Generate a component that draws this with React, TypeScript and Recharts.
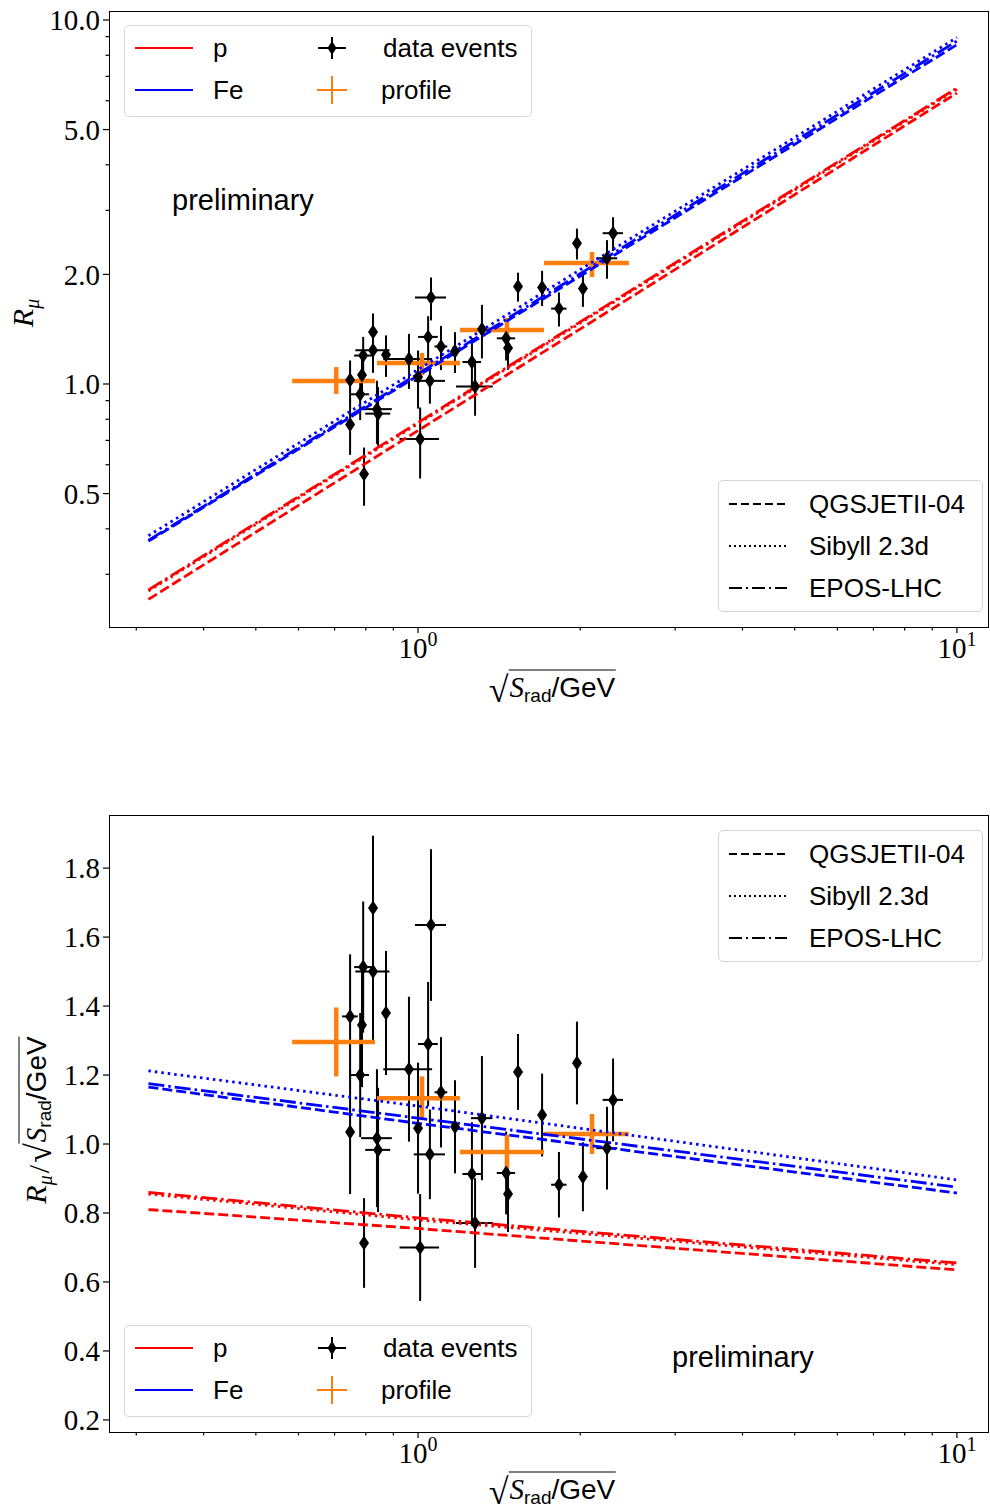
import React from 'react';
import { ScatterChart, Scatter, XAxis, YAxis, ErrorBar } from 'recharts';

// --- data events (one entry per air shower) ---
const eventX = [0.825, 1.057, 0.791, 0.825, 0.872, 0.748, 0.787, 1.044, 0.781, 0.962, 1.103, 1.533, 1.972, 2.301, 1.314, 1.699, 1.171, 1.0, 0.748, 0.839, 0.843, 1.052, 2.242, 1.259, 1.457, 1.469, 2.023, 1.826, 1.276, 0.794, 1.009];
const eventXErr = [0, 0.07, 0.03, 0.06, 0, 0.025, 0, 0.044, 0.03, 0.1, 0.03, 0, 0, 0.1, 0.06, 0, 0, 0, 0, 0.055, 0.045, 0.07, 0.1, 0.05, 0.057, 0.025, 0, 0.06, 0.1, 0, 0.085];
const eventR = [1.389, 1.728, 1.197, 1.238, 1.203, 1.025, 1.059, 1.347, 0.937, 1.171, 1.268, 1.853, 2.435, 2.596, 1.413, 1.842, 1.23, 1.046, 0.774, 0.853, 0.829, 1.02, 2.215, 1.149, 1.335, 1.256, 1.831, 1.611, 0.984, 0.566, 0.706];
const eventRErr = [0.173, 0.233, 0.15, 0.165, 0.157, 0.135, 0.142, 0.188, 0.141, 0.202, 0.176, 0.169, 0.237, 0.276, 0.237, 0.204, 0.158, 0.19, 0.135, 0.168, 0.152, 0.137, 0.269, 0.189, 0.175, 0.162, 0.202, 0.173, 0.166, 0.103, 0.156];
const eventRatio = [1.684, 1.635, 1.513, 1.5, 1.38, 1.37, 1.345, 1.29, 1.2, 1.217, 1.15, 1.209, 1.235, 1.128, 1.075, 1.084, 1.05, 1.046, 1.035, 1.017, 0.983, 0.97, 0.988, 0.913, 0.916, 0.855, 0.905, 0.882, 0.771, 0.713, 0.7];
const eventRatioErr = [0.21, 0.22, 0.19, 0.2, 0.18, 0.18, 0.18, 0.18, 0.18, 0.21, 0.16, 0.11, 0.12, 0.12, 0.18, 0.12, 0.135, 0.19, 0.18, 0.2, 0.18, 0.13, 0.12, 0.15, 0.12, 0.11, 0.1, 0.095, 0.13, 0.13, 0.155];

// --- profile (binned) ---
const profileX = [0.705, 1.017, 1.462, 2.103];
const profileXLow = [0.584, 0.839, 1.196, 1.713];
const profileXHigh = [0.832, 1.196, 1.713, 2.462];
const profileR = [1.019, 1.142, 1.407, 2.149];
const profileRLow = [0.939, 1.058, 1.288, 1.968];
const profileRHigh = [1.113, 1.217, 1.518, 2.305];
const profileRatio = [1.296, 1.133, 0.977, 1.029];
const profileRatioErr = [0.1, 0.063, 0.05, 0.058];

// --- model predictions ---
const modelXTop = [0.316, 10];
const pQgsTop = [0.256, 6.3];
const pSibTop = [0.27, 6.45];
const pEposTop = [0.272, 6.5];
const feQgsTop = [0.37, 8.55];
const feSibTop = [0.383, 8.95];
const feEposTop = [0.372, 8.75];

const modelXBottom = [0.316, 1, 10];
const pQgsBottom = [0.81, 0.755, 0.635];
const pSibBottom = [0.855, 0.78, 0.65];
const pEposBottom = [0.86, 0.786, 0.655];
const feQgsBottom = [1.165, 1.06, 0.858];
const feSibBottom = [1.212, 1.11, 0.896];
const feEposBottom = [1.175, 1.075, 0.875];

// --- ticks ---
const xTicks = [0.3, 0.4, 0.5, 0.6, 0.7, 0.8, 0.9, 1, 2, 3, 4, 5, 6, 7, 8, 9, 10];
const xTickLabels = [1, 10];
const yTicksTop = [0.3, 0.4, 0.5, 0.6, 0.7, 0.8, 0.9, 1, 2, 3, 4, 5, 6, 7, 8, 9, 10];
const yTickLabelsTop = [0.5, 1, 2, 5, 10];
const yTicksBottom = [0.2, 0.4, 0.6, 0.8, 1.0, 1.2, 1.4, 1.6, 1.8];

const SERIF = '"Liberation Serif", "DejaVu Serif", serif';
const SANS = '"Liberation Sans", Arial, sans-serif';
const RED = '#ff0000';
const BLUE = '#0000ff';
const ORANGE = '#ff7f0e';
const DASHED = '10 4';
const DOTTED = '2.5 4';
const DASHDOT = '16 4 2.5 4';

const eventsTop = eventX.map((x, i) => ({ x, y: eventR[i], ex: eventXErr[i], ey: eventRErr[i] }));
const eventsBottom = eventX.map((x, i) => ({ x, y: eventRatio[i], ex: eventXErr[i], ey: eventRatioErr[i] }));
const profileTop = profileX.map((x, i) => ({
  x,
  y: profileR[i],
  ex: [x - profileXLow[i], profileXHigh[i] - x],
  ey: [profileR[i] - profileRLow[i], profileRHigh[i] - profileR[i]],
}));
const profileBottom = profileX.map((x, i) => ({
  x,
  y: profileRatio[i],
  ex: [x - profileXLow[i], profileXHigh[i] - x],
  ey: profileRatioErr[i],
}));

const toLine = (xs: number[], ys: number[]) => xs.map((x, i) => ({ x, y: ys[i] }));

const topModels = [
  { name: 'p-qgs', data: toLine(modelXTop, pQgsTop), color: RED, dash: DASHED },
  { name: 'p-sib', data: toLine(modelXTop, pSibTop), color: RED, dash: DOTTED },
  { name: 'p-epos', data: toLine(modelXTop, pEposTop), color: RED, dash: DASHDOT },
  { name: 'fe-qgs', data: toLine(modelXTop, feQgsTop), color: BLUE, dash: DASHED },
  { name: 'fe-sib', data: toLine(modelXTop, feSibTop), color: BLUE, dash: DOTTED },
  { name: 'fe-epos', data: toLine(modelXTop, feEposTop), color: BLUE, dash: DASHDOT },
];
const bottomModels = [
  { name: 'p-qgs', data: toLine(modelXBottom, pQgsBottom), color: RED, dash: DASHED },
  { name: 'p-sib', data: toLine(modelXBottom, pSibBottom), color: RED, dash: DOTTED },
  { name: 'p-epos', data: toLine(modelXBottom, pEposBottom), color: RED, dash: DASHDOT },
  { name: 'fe-qgs', data: toLine(modelXBottom, feQgsBottom), color: BLUE, dash: DASHED },
  { name: 'fe-sib', data: toLine(modelXBottom, feSibBottom), color: BLUE, dash: DOTTED },
  { name: 'fe-epos', data: toLine(modelXBottom, feEposBottom), color: BLUE, dash: DASHDOT },
];

const Diamond = (props: any) => {
  const { cx, cy } = props;
  if (cx == null || cy == null) return <g />;
  return <polygon points={`${cx},${cy - 7.5} ${cx + 5},${cy} ${cx},${cy + 7.5} ${cx - 5},${cy}`} fill="#000" />;
};

const NoMark = () => <g />;

const XTick = (props: any) => {
  const { x, y, payload } = props;
  const v = payload.value;
  const major = xTickLabels.includes(v);
  return (
    <g>
      <line x1={x} x2={x} y1={y} y2={y + (major ? 6 : 3.5)} stroke="#000" strokeWidth={1.2} />
      {major && (
        <text x={x} y={y + 31} textAnchor="middle" fontFamily={SERIF} fontSize={29} fill="#000">
          10
          <tspan dy={-12} fontSize={20}>{v === 1 ? '0' : '1'}</tspan>
        </text>
      )}
    </g>
  );
};

const YTickLog = (props: any) => {
  const { x, y, payload } = props;
  const v = payload.value;
  const major = yTickLabelsTop.includes(v);
  return (
    <g>
      <line x1={x} x2={x - (major ? 6 : 3.5)} y1={y} y2={y} stroke="#000" strokeWidth={1.2} />
      {major && (
        <text x={x - 9} y={y} dy="0.35em" textAnchor="end" fontFamily={SERIF} fontSize={29} fill="#000">
          {v.toFixed(1)}
        </text>
      )}
    </g>
  );
};

const YTickLin = (props: any) => {
  const { x, y, payload } = props;
  return (
    <g>
      <line x1={x} x2={x - 6} y1={y} y2={y} stroke="#000" strokeWidth={1.2} />
      <text x={x - 9} y={y} dy="0.35em" textAnchor="end" fontFamily={SERIF} fontSize={29} fill="#000">
        {Number(payload.value).toFixed(1)}
      </text>
    </g>
  );
};

const LineIcon = ({ color, dash, width = 2 }: { color: string; dash?: string; width?: number }) => (
  <svg width={60} height={10} style={{ display: 'block' }}>
    <line x1={1} x2={59} y1={5} y2={5} stroke={color} strokeWidth={width} strokeDasharray={dash} />
  </svg>
);

const EventIcon = () => (
  <svg width={30} height={24} style={{ display: 'block' }}>
    <line x1={1} x2={29} y1={12} y2={12} stroke="#000" strokeWidth={2} />
    <line x1={15} x2={15} y1={1} y2={23} stroke="#000" strokeWidth={2} />
    <polygon points="15,5 19.5,12 15,19 10.5,12" fill="#000" />
  </svg>
);

const ProfileIcon = () => (
  <svg width={30} height={28} style={{ display: 'block' }}>
    <line x1={0} x2={30} y1={14} y2={14} stroke={ORANGE} strokeWidth={2} />
    <line x1={15} x2={15} y1={0} y2={28} stroke={ORANGE} strokeWidth={2} />
  </svg>
);

const boxStyle: React.CSSProperties = {
  position: 'absolute',
  border: '1px solid #d4d4d4',
  borderRadius: 5,
  background: 'rgba(255,255,255,0.8)',
  boxSizing: 'border-box',
};

const Abs = ({ left, cy, h = 30, children }: { left: number; cy: number; h?: number; children: React.ReactNode }) => (
  <div style={{ position: 'absolute', left, top: cy - h / 2, height: h, display: 'flex', alignItems: 'center' }}>{children}</div>
);

const legendText: React.CSSProperties = { fontFamily: SANS, fontSize: 26, whiteSpace: 'nowrap', lineHeight: '30px' };

const CompLegend = ({ left, top }: { left: number; top: number }) => (
  <div style={{ ...boxStyle, left, top, width: 408, height: 92 }}>
    <Abs left={9} cy={22}><LineIcon color={RED} /></Abs>
    <Abs left={9} cy={64}><LineIcon color={BLUE} /></Abs>
    <Abs left={88} cy={22}><span style={legendText}>p</span></Abs>
    <Abs left={88} cy={64}><span style={legendText}>Fe</span></Abs>
    <Abs left={192} cy={22}><EventIcon /></Abs>
    <Abs left={192} cy={64}><ProfileIcon /></Abs>
    <Abs left={258} cy={22}><span style={legendText}>data events</span></Abs>
    <Abs left={256} cy={64}><span style={legendText}>profile</span></Abs>
  </div>
);

const ModelLegend = ({ left, top }: { left: number; top: number }) => (
  <div style={{ ...boxStyle, left, top, width: 265, height: 132 }}>
    <Abs left={9} cy={23}><LineIcon color="#000" dash="8 4" /></Abs>
    <Abs left={9} cy={65}><LineIcon color="#000" dash="2 3" /></Abs>
    <Abs left={9} cy={107}><LineIcon color="#000" dash="13 4 2 4" /></Abs>
    <Abs left={90} cy={23}><span style={legendText}>QGSJETII-04</span></Abs>
    <Abs left={90} cy={65}><span style={legendText}>Sibyll 2.3d</span></Abs>
    <Abs left={90} cy={107}><span style={legendText}>EPOS-LHC</span></Abs>
  </div>
);

const SqrtS = () => (
  <span style={{ display: 'inline-flex', alignItems: 'flex-end', whiteSpace: 'nowrap' }}>
    <span style={{ fontFamily: SERIF, fontSize: 36, lineHeight: '34px' }}>√</span>
    <span style={{ borderTop: '1.6px solid #000', lineHeight: '30px', paddingLeft: 1, paddingTop: 1 }}>
      <span style={{ fontFamily: SERIF, fontStyle: 'italic', fontSize: 29 }}>S</span>
      <span style={{ fontFamily: SANS, fontSize: 19, position: 'relative', top: 5 }}>rad</span>
      <span style={{ fontFamily: SANS, fontSize: 28 }}>/GeV</span>
    </span>
  </span>
);

const Centered = ({ cx, cy, rotate = false, children }: { cx: number; cy: number; rotate?: boolean; children: React.ReactNode }) => (
  <div
    style={{
      position: 'absolute',
      left: cx,
      top: cy,
      transform: `translate(-50%, -50%)${rotate ? ' rotate(-90deg)' : ''}`,
      whiteSpace: 'nowrap',
      display: 'flex',
      alignItems: 'flex-end',
    }}
  >
    {children}
  </div>
);

const RMu = () => (
  <span style={{ fontFamily: SERIF, fontStyle: 'italic', fontSize: 30, lineHeight: '34px' }}>
    R<span style={{ fontSize: 20, position: 'relative', top: 6 }}>μ</span>
  </span>
);

const frame = (left: number, top: number, width: number, height: number): React.CSSProperties => ({
  position: 'absolute',
  left,
  top,
  width,
  height,
  border: '1.2px solid #000',
  boxSizing: 'border-box',
  pointerEvents: 'none',
});

const Panel = ({ logY, events, profile, models }: { logY: boolean; events: any[]; profile: any[]; models: any[] }) => (
  <ScatterChart
    width={990}
    height={logY ? 720 : 751}
    margin={{ top: logY ? 11 : 55, right: 1, bottom: 0, left: 0 }}
  >
    <XAxis
      type="number"
      dataKey="x"
      scale="log"
      domain={[0.267, 11.47]}
      allowDataOverflow
      ticks={xTicks}
      interval={0}
      tick={(p: any) => <XTick {...p} />}
      tickLine={false}
      axisLine={false}
      tickSize={0}
      tickMargin={0}
      height={logY ? 93 : 79}
    />
    {logY ? (
      <YAxis
        type="number"
        dataKey="y"
        scale="log"
        domain={[0.215, 10.585]}
        allowDataOverflow
        ticks={yTicksTop}
        interval={0}
        tick={(p: any) => <YTickLog {...p} />}
        tickLine={false}
        axisLine={false}
        tickSize={0}
        tickMargin={0}
        width={109}
      />
    ) : (
      <YAxis
        type="number"
        dataKey="y"
        domain={[0.165, 1.954]}
        allowDataOverflow
        ticks={yTicksBottom}
        interval={0}
        tick={(p: any) => <YTickLin {...p} />}
        tickLine={false}
        axisLine={false}
        tickSize={0}
        tickMargin={0}
        width={109}
      />
    )}
    {models.map((m) => (
      <Scatter
        key={m.name}
        name={m.name}
        data={m.data}
        fill={m.color}
        line={{ stroke: m.color, strokeWidth: 2.8, strokeDasharray: m.dash }}
        shape={NoMark}
        isAnimationActive={false}
      />
    ))}
    <Scatter name="data events" data={events} fill="#000" shape={Diamond} isAnimationActive={false}>
      <ErrorBar dataKey="ey" direction="y" width={0} stroke="#000" strokeWidth={2} />
      <ErrorBar dataKey="ex" direction="x" width={0} stroke="#000" strokeWidth={2} />
    </Scatter>
    <Scatter name="profile" data={profile} fill={ORANGE} shape={NoMark} isAnimationActive={false}>
      <ErrorBar dataKey="ey" direction="y" width={0} stroke={ORANGE} strokeWidth={4.5} />
      <ErrorBar dataKey="ex" direction="x" width={0} stroke={ORANGE} strokeWidth={4.5} />
    </Scatter>
  </ScatterChart>
);

export default function App() {
  return (
    <div style={{ position: 'absolute', left: 0, top: 0, width: 990, height: 1511, background: '#fff', overflow: 'hidden' }}>
      <div style={{ position: 'absolute', left: 0, top: 0 }}>
        <Panel logY events={eventsTop} profile={profileTop} models={topModels} />
      </div>
      <div style={{ position: 'absolute', left: 0, top: 760 }}>
        <Panel logY={false} events={eventsBottom} profile={profileBottom} models={bottomModels} />
      </div>

      <div style={frame(109, 11, 880, 617)} />
      <div style={frame(109, 815, 880, 618)} />

      <CompLegend left={124} top={25} />
      <ModelLegend left={718} top={480} />
      <ModelLegend left={718} top={830} />
      <CompLegend left={124} top={1325} />

      <Abs left={172} cy={200} h={36}><span style={{ fontFamily: SANS, fontSize: 29 }}>preliminary</span></Abs>
      <Abs left={672} cy={1357} h={36}><span style={{ fontFamily: SANS, fontSize: 29 }}>preliminary</span></Abs>

      <Centered cx={552} cy={688}><SqrtS /></Centered>
      <Centered cx={552} cy={1490}><SqrtS /></Centered>

      <Centered cx={24} cy={313} rotate><RMu /></Centered>
      <Centered cx={37} cy={1120} rotate>
        <RMu />
        <span style={{ fontFamily: SERIF, fontSize: 30, lineHeight: '34px', margin: '0 2px' }}>/</span>
        <SqrtS />
      </Centered>
    </div>
  );
}
